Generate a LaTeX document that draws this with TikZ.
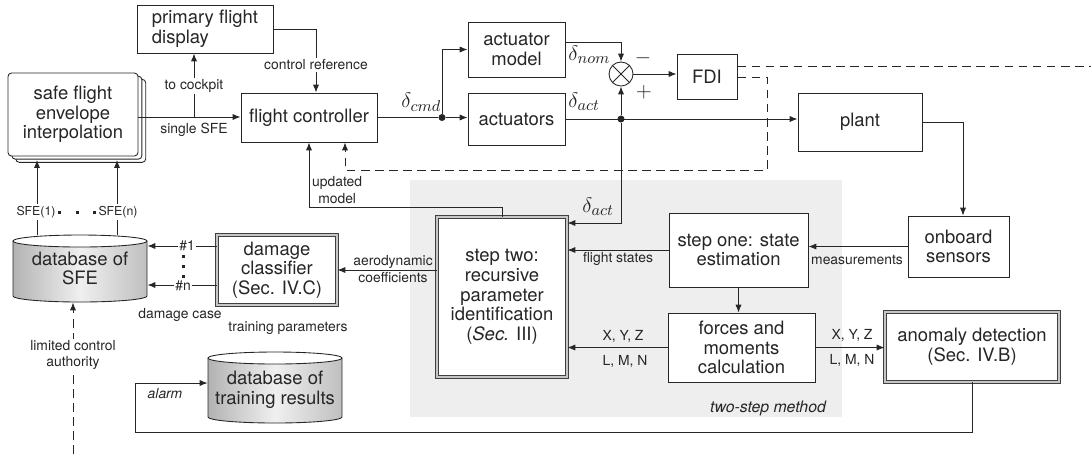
\documentclass[tikz,border=0pt]{standalone}
\usepackage{fontspec}
\setmainfont{TeX Gyre Heros}
\usetikzlibrary{arrows.meta,shadows}
\newcommand\blkfont{\fontsize{10.5}{11.2}\selectfont}
\newcommand\lblfont{\fontsize{7.9}{9.2}\selectfont}
\begin{document}
\begin{tikzpicture}[x=0.02cm,y=-0.02cm,line width=0.5pt,color=black!85,
  blk/.style={draw,fill=white,font=\blkfont,align=center,inner sep=1pt},
  dblk/.style={blk,draw=black!75,double=gray!45,double distance=1.1pt,line width=0.5pt},
  lbl/.style={font=\lblfont,inner sep=1pt},
  wlbl/.style={lbl,fill=white},
  dlbl/.style={font=\fontsize{13}{15}\selectfont,inner sep=0pt,anchor=west},
  arr/.style={-{Latex[length=4.5pt,width=3.5pt]}},
  dline/.style={dash pattern=on 5pt off 3pt},
  jdot/.style={circle,fill,inner sep=0pt,minimum size=4pt}]
\useasboundingbox (0,0) rectangle (1091,454);
\node[fill=gray!13,minimum width=8.64cm,minimum height=4.74cm] (twostep) at (626,298.5) {};
\node[lbl,font=\fontsize{9}{10}\selectfont\itshape] (tsm) at (768,408) {two-step method};

\node[blk,minimum width=2.6cm,minimum height=1.66cm,rounded corners=2pt,
  double copy shadow={shadow xshift=2.2pt,shadow yshift=-1.8pt}] (sfe) at (73,114.5) {safe flight\\envelope\\interpolation};
\node[blk,minimum width=2.72cm,minimum height=0.96cm,align=left] (pfd) at (205,29) {primary flight\\display};
\node[blk,minimum width=2.72cm,minimum height=0.98cm] (fc) at (309,117.5) {flight controller};
\node[blk,minimum width=1.94cm,minimum height=1.1cm] (am) at (516.5,49.5) {actuator\\model};
\node[blk,minimum width=1.94cm,minimum height=1.04cm] (act) at (516.5,119) {actuators};
\node[draw,circle,minimum size=0.48cm,inner sep=0pt] (sum) at (621,74) {};
\draw (sum.north east) -- (sum.south west);
\draw (sum.north west) -- (sum.south east);
\node[blk,minimum width=1.2cm,minimum height=0.9cm] (fdi) at (707,76.5) {FDI};
\node[blk,minimum width=2.48cm,minimum height=1.16cm] (plant) at (860,122) {plant};
\node[blk,minimum width=2.02cm,minimum height=1.22cm] (sens) at (958.5,246.5) {onboard\\sensors};
\node[blk,minimum width=2.78cm,minimum height=1.48cm] (stepone) at (738.5,250) {step one: state\\estimation};
\node[dblk,minimum width=2.6cm,minimum height=3.2cm] (steptwo) at (502,297) {step two:\\recursive\\parameter\\identification\\(\textit{Sec.} III)};
\node[blk,minimum width=2.94cm,minimum height=1.38cm] (forces) at (741.5,347.5) {forces and\\moments\\calculation};
\node[dblk,minimum width=3.48cm,minimum height=1.4cm] (anom) at (972,347) {anomaly detection\\(Sec. IV.B)};
\node[dblk,minimum width=2.4cm,minimum height=1.4cm] (clf) at (277,270) {damage\\classifier\\(Sec. IV.C)};

\shade[left color=gray!60,right color=gray!50,middle color=gray!12] (13,241) -- (13,296) arc[start angle=180,end angle=0,x radius=67,y radius=6] -- (147,241) -- cycle;
\draw (13,241) -- (13,296) arc[start angle=180,end angle=0,x radius=67,y radius=6] -- (147,241);
\draw[fill=white] (80,241) ellipse[x radius=67,y radius=6];
\node[font=\blkfont,align=center,minimum width=2.68cm,minimum height=1.34cm] (sfedb) at (80,268.5) {database of\\SFE};
\shade[left color=gray!60,right color=gray!50,middle color=gray!12] (208,358) -- (208,417) arc[start angle=180,end angle=0,x radius=67,y radius=6] -- (342,358) -- cycle;
\draw (208,358) -- (208,417) arc[start angle=180,end angle=0,x radius=67,y radius=6] -- (342,358);
\draw[fill=white] (275,358) ellipse[x radius=67,y radius=6];
\node[font=\blkfont,align=center,minimum width=2.68cm,minimum height=1.42cm] (traindb) at (275,390) {database of\\training results};

\coordinate (sp) at (194,117);
\draw[arr] (sfe.east |- sp) -- (fc.west |- sp);
\draw[arr] (sp) -- (sp |- pfd.south);
\node[wlbl] (tock) at (194,86) {to cockpit};
\node[lbl] (single) at (194,130) {single SFE};
\coordinate (cr) at (316,29);
\draw[arr] (pfd.east) -- (cr) -- (cr |- fc.north);
\node[wlbl] (ctrlref) at (316,65) {control reference};

\node[jdot] (jc) at (442,117.5) {};
\draw (fc.east) -- (jc);
\draw[arr] (jc) -- (act.west |- jc);
\draw[arr] (jc) |- (am.west);
\node[dlbl] (dcmd) at (401,102) {$\delta_{cmd}$};
\coordinate (nm) at (621,42);
\draw[arr] (am.east |- nm) -- (nm) -- (sum.north);
\node[dlbl] (dnom) at (568,55) {$\delta_{nom}$};
\node[jdot] (ja) at (621,119) {};
\draw[arr] (act.east |- ja) -- (plant.west |- ja);
\draw[arr] (ja) -- (sum.south);
\coordinate (da) at (621,223);
\draw[arr] (ja) -- (da) -- (da -| steptwo.east);
\node[dlbl] (dact) at (568,102) {$\delta_{act}$};
\node[dlbl] (dactb) at (582,207) {$\delta_{act}$};
\node[dlbl,anchor=center] (minus) at (643,58) {$-$};
\node[dlbl,anchor=center] (plus) at (644,92) {$+$};
\draw[arr] (sum.east) -- (sum.east -| fdi.west);

\coordinate (fdo) at (1091,66);
\draw[dline] (fdi.east |- fdo) -- (fdo);
\coordinate (fd1) at (767,77);
\coordinate (fd2) at (767,170);
\coordinate (fd3) at (345,170);
\draw[dline,arr] (fdi.east |- fd1) -- (fd1) -- (fd2) -- (fd3) -- (fd3 |- fc.south);
\coordinate (um) at (502,207);
\draw[arr] (steptwo.north) -- (um) -| (fc.south);
\node[lbl,anchor=west,align=center] (upd) at (310,190) {updated\\model};

\coordinate (ps) at (963,122);
\draw[arr] (plant.east) -- (ps) -- (ps |- sens.north);
\draw[arr] (sens.west) -- (sens.west -| stepone.east);
\node[lbl] (meas) at (857,260) {measurements};
\draw[arr] (stepone.west) -- (stepone.west -| steptwo.east);
\node[lbl] (fst) at (618,259) {flight states};
\draw[arr] (stepone.south) -- (stepone.south |- forces.north);
\draw[arr] (forces.west) -- (forces.west -| steptwo.east);
\node[lbl] (xyza) at (623,336) {X, Y, Z};
\node[lbl] (lmna) at (625,361) {L, M, N};
\draw[arr] (forces.east) -- (forces.east -| anom.west);
\node[lbl] (xyzb) at (852,335) {X, Y, Z};
\node[lbl] (lmnb) at (852,360) {L, M, N};

\coordinate (al) at (135,432);
\coordinate (alb) at (135,383);
\draw[arr] (anom.south) |- (al) -- (alb) -- (alb -| traindb.west);
\node[lbl,font=\lblfont\itshape] (alarm) at (165,394) {alarm};
\draw[arr] (steptwo.west |- clf) -- (clf.east);
\node[lbl,align=center] (aero) at (393,269) {aerodynamic\\coefficients};

\coordinate (h1) at (0,246);
\coordinate (hn) at (0,285);
\draw[arr] (clf.west |- h1) -- (sfedb.east |- h1);
\draw[arr] (clf.west |- hn) -- (sfedb.east |- hn);
\node[wlbl] (cone) at (187,246) {\#1};
\node[wlbl] (cnn) at (183,286) {\#n};
\foreach \y in {256,266,276} \fill (181.5,\y-1.5) rectangle (184.5,\y+1.5);
\node[lbl] (dcase) at (180,315) {damage case};
\node[lbl] (tpar) at (288,328) {training parameters};

\coordinate (s1) at (37,160);
\coordinate (sn) at (117,160);
\draw[arr] (s1 |- sfedb.north) -- (s1);
\draw[arr] (sn |- sfedb.north) -- (sn);
\node[wlbl,font=\fontsize{7}{8}\selectfont] (sfea) at (36,212) {SFE(1)};
\node[wlbl,font=\fontsize{7}{8}\selectfont] (sfeb) at (118,212) {SFE(n)};
\foreach \x in {59,77,94} \fill (\x-1.5,210.5) rectangle (\x+1.5,213.5);
\coordinate (lca) at (73,454);
\draw[dline,arr] (lca) -- (lca |- sfedb.south);
\node[wlbl,align=center] (lim) at (73,355) {limited control\\authority};
\end{tikzpicture}
\end{document}
